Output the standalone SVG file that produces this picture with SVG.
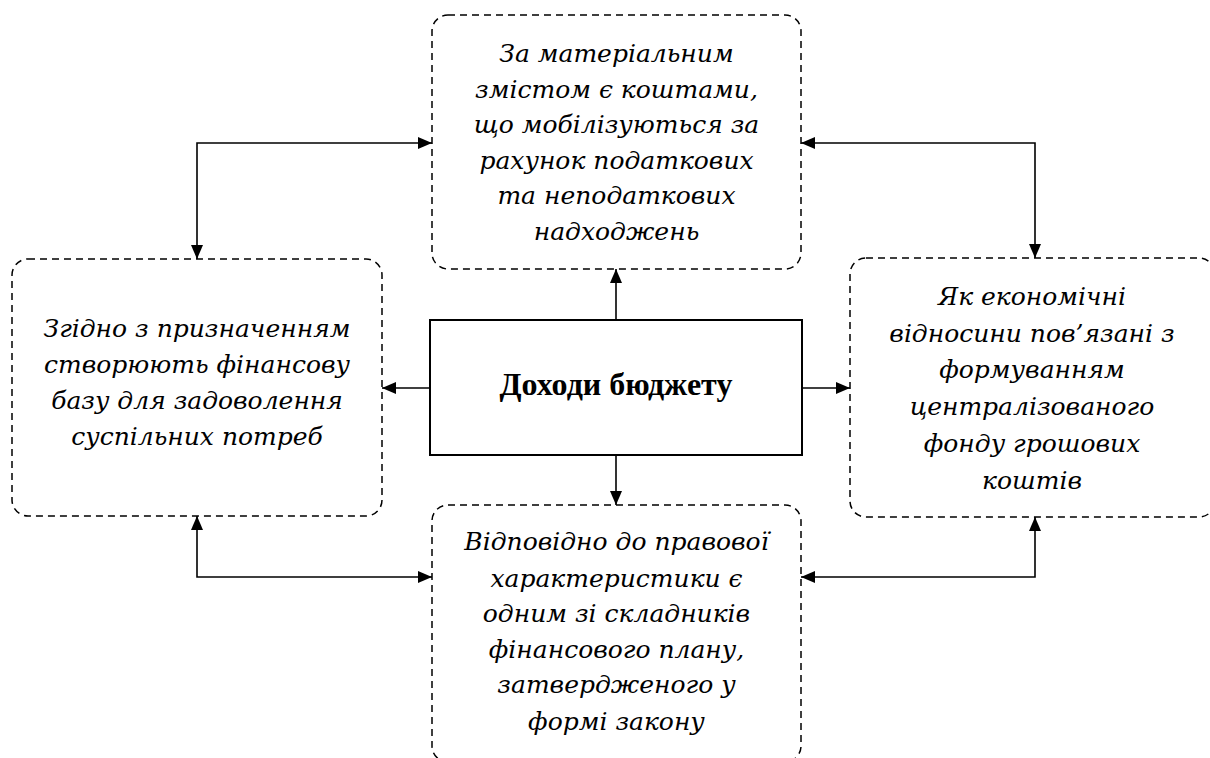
<svg xmlns="http://www.w3.org/2000/svg" width="1210" height="758" viewBox="0 0 1210 758">
<style>
.box{fill:#fff;stroke:#000;stroke-width:1.5;stroke-dasharray:7,5}
.main{fill:#fff;stroke:#000;stroke-width:2}
.t{font-family:"DejaVu Serif","Liberation Serif",serif;font-style:italic;font-size:25px;text-anchor:middle;fill:#000}
.b{font-family:"Liberation Serif",serif;font-weight:bold;font-size:32px;text-anchor:middle;fill:#000}
.c{fill:none;stroke:#000;stroke-width:1.6}
</style>
<defs>
<marker id="ah" markerUnits="userSpaceOnUse" markerWidth="14" markerHeight="12" refX="14" refY="6" orient="auto-start-reverse">
<path d="M0,0 L14,6 L0,12 z" fill="#000"/>
</marker>
</defs>
<g id="connectors">
<path class="c" d="M432,143 L197,143 L197,259" marker-start="url(#ah)" marker-end="url(#ah)"/>
<path class="c" d="M801,143 L1035,143 L1035,258" marker-start="url(#ah)" marker-end="url(#ah)"/>
<path class="c" d="M197,516 L197,577 L432,577" marker-start="url(#ah)" marker-end="url(#ah)"/>
<path class="c" d="M1035,517 L1035,577 L801,577" marker-start="url(#ah)" marker-end="url(#ah)"/>
<path class="c" d="M616,320 L616,269" marker-end="url(#ah)"/>
<path class="c" d="M430,388 L382,388" marker-end="url(#ah)"/>
<path class="c" d="M802,388 L850,388" marker-end="url(#ah)"/>
<path class="c" d="M616,455 L616,505" marker-end="url(#ah)"/>
</g>
<g id="top">
<rect class="box" x="432" y="15" width="369" height="254" rx="16"/>
<text class="t" x="616.5" y="62">За матеріальним</text>
<text class="t" x="616.5" y="97.5">змістом є коштами,</text>
<text class="t" x="616.5" y="133">що мобілізуються за</text>
<text class="t" x="616.5" y="168.5">рахунок податкових</text>
<text class="t" x="616.5" y="204">та неподаткових</text>
<text class="t" x="616.5" y="239.5">надходжень</text>
</g>
<g id="left">
<rect class="box" x="12" y="259" width="370" height="257" rx="16"/>
<text class="t" x="197" y="337">Згідно з призначенням</text>
<text class="t" x="197" y="373">створюють фінансову</text>
<text class="t" x="197" y="409">базу для задоволення</text>
<text class="t" x="197" y="445">суспільних потреб</text>
</g>
<g id="right">
<rect class="box" x="850" y="258" width="365" height="259" rx="16"/>
<text class="t" x="1032" y="305">Як економічні</text>
<text class="t" x="1032" y="342">відносини пов’язані з</text>
<text class="t" x="1032" y="378">формуванням</text>
<text class="t" x="1032" y="415">централізованого</text>
<text class="t" x="1032" y="452">фонду грошових</text>
<text class="t" x="1032" y="489">коштів</text>
</g>
<g id="bottom">
<rect class="box" x="432" y="505" width="369" height="257" rx="16"/>
<text class="t" x="616.5" y="550">Відповідно до правової</text>
<text class="t" x="616.5" y="587">характеристики є</text>
<text class="t" x="616.5" y="622">одним зі складників</text>
<text class="t" x="616.5" y="658">фінансового плану,</text>
<text class="t" x="616.5" y="693">затвердженого у</text>
<text class="t" x="616.5" y="730">формі закону</text>
</g>
<g id="center">
<rect class="main" x="430" y="320" width="372" height="135"/>
<text class="b" x="616" y="395">Доходи бюджету</text>
</g>
</svg>
